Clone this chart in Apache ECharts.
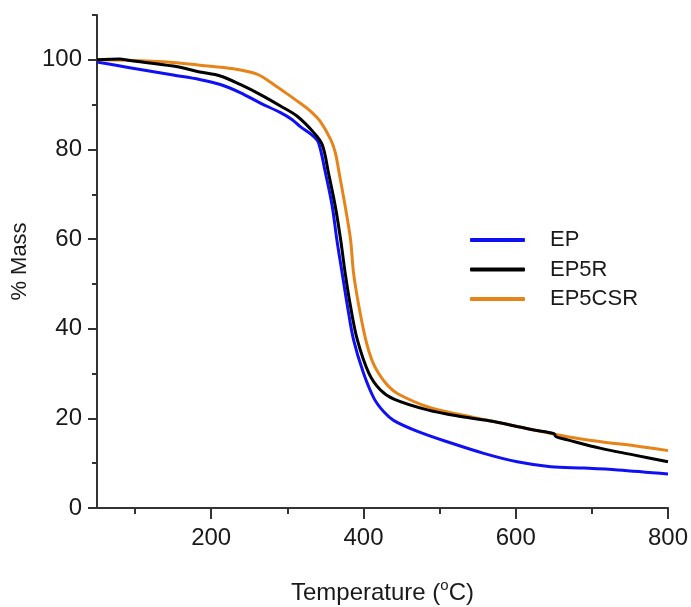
<!DOCTYPE html>
<html>
<head>
<meta charset="utf-8">
<script src="https://cdn.jsdelivr.net/npm/echarts@6/dist/echarts.min.js"></script>
<style>html,body{margin:0;padding:0;background:#fff}#c{width:691px;height:607px}</style>
</head>
<body>
<div id="c"></div>
<script>
const seriesNames = ['EP', 'EP5R', 'EP5CSR'];
const xTickLabels = [200, 400, 600, 800];
const xMinorTicks = [100, 300, 500, 700];
const yTickLabels = [0, 20, 40, 60, 80, 100];
const yMinorTicks = [10, 30, 50, 70, 90, 110];

const epTemp = [50, 91, 150, 185, 212, 238, 264, 291, 306, 317, 334, 341, 350, 359, 365, 372, 379, 387, 400, 414, 427, 440, 471, 515, 558, 602, 646, 690, 734, 800];
const epMass = [99.5, 98.3, 96.6, 95.6, 94.5, 92.7, 90.4, 88.2, 86.7, 85.1, 83.0, 81.5, 74.8, 67.3, 59.9, 52.4, 45.0, 37.5, 30.1, 24.4, 21.4, 19.5, 17.1, 14.5, 12.2, 10.3, 9.2, 8.9, 8.5, 7.6];

const ep5rTemp = [50, 80, 91, 150, 185, 212, 238, 264, 291, 313, 335, 346, 354, 363, 370, 376, 383, 392, 407, 422, 440, 484, 528, 571, 607, 624, 650, 653, 668, 712, 756, 800];
const ep5rMass = [100.0, 100.2, 99.9, 98.6, 97.3, 96.4, 94.5, 92.3, 89.7, 87.4, 83.7, 81.0, 74.8, 67.3, 59.9, 52.4, 45.0, 37.5, 30.1, 26.4, 24.3, 21.9, 20.4, 19.3, 18.0, 17.4, 16.6, 15.9, 15.2, 13.3, 11.8, 10.3];

const ep5csrTemp = [50, 91, 150, 185, 229, 260, 282, 304, 317, 330, 343, 357, 363, 368, 376, 383, 387, 394, 403, 411, 420, 432, 445, 484, 528, 571, 624, 668, 712, 756, 800];
const ep5csrMass = [100.0, 99.9, 99.4, 98.8, 98.0, 96.8, 94.5, 91.9, 90.3, 88.6, 86.3, 82.2, 79.3, 74.8, 67.3, 59.9, 52.4, 45.0, 37.5, 33.0, 30.0, 27.3, 25.5, 22.6, 20.8, 19.3, 17.4, 15.9, 14.8, 13.9, 12.8];

const zip = (a, b) => a.map((v, i) => [v, b[i]]);
const FONT = 'Liberation Sans, Arial, sans-serif';
const AX = '#333';

const chart = echarts.init(document.getElementById('c'), null, {renderer: 'canvas'});
const axisCommon = {
  type: 'value',
  splitLine: {show: false},
  axisLine: {show: true, lineStyle: {color: AX, width: 2}},
  axisLabel: {color: '#1a1a1a', fontFamily: FONT, fontSize: 24}
};
chart.setOption({
  animation: false,
  backgroundColor: '#fff',
  grid: {left: 97, right: 23, top: 15, bottom: 99, containLabel: false, outerBoundsMode: 'none'},
  legend: {
    data: seriesNames,
    orient: 'vertical',
    left: 465,
    top: 224,
    itemWidth: 55,
    itemHeight: 4,
    itemGap: 7.5,
    icon: 'roundRect',
    textStyle: {fontFamily: FONT, fontSize: 22, color: '#1a1a1a', padding: [0, 0, 0, 20]}
  },
  xAxis: [
    Object.assign({}, axisCommon, {
      min: 50, max: 800,
      name: 'Temperature ({sup|o}C)',
      nameLocation: 'middle',
      nameGap: 70,
      nameTextStyle: {fontFamily: FONT, fontSize: 24, color: '#1a1a1a',
        rich: {sup: {fontFamily: FONT, fontSize: 15, color: '#1a1a1a', verticalAlign: 'top', padding: [0, 0, 16, 0]}}},
      axisTick: {show: true, inside: false, length: 11, customValues: xTickLabels, lineStyle: {color: AX, width: 2}},
      axisLabel: Object.assign({}, axisCommon.axisLabel, {margin: 18, customValues: xTickLabels})
    }),
    {
      type: 'value', min: 50, max: 800, position: 'bottom',
      splitLine: {show: false}, axisLine: {show: false}, axisLabel: {show: false},
      axisTick: {show: true, length: 6, customValues: xMinorTicks, lineStyle: {color: AX, width: 2}}
    }
  ],
  yAxis: [
    Object.assign({}, axisCommon, {
      min: 0, max: 110,
      name: '% Mass',
      nameLocation: 'middle',
      nameGap: 63,
      nameTextStyle: {fontFamily: FONT, fontSize: 22, color: '#1a1a1a'},
      axisTick: {show: true, inside: false, length: 9, customValues: yTickLabels, lineStyle: {color: AX, width: 2}},
      axisLabel: Object.assign({}, axisCommon.axisLabel, {margin: 15, customValues: yTickLabels})
    }),
    {
      type: 'value', min: 0, max: 110, position: 'left',
      splitLine: {show: false}, axisLine: {show: false}, axisLabel: {show: false},
      axisTick: {show: true, length: 5, customValues: yMinorTicks, lineStyle: {color: AX, width: 2}}
    }
  ],
  series: [
    {name: 'EP', type: 'line', data: zip(epTemp, epMass), showSymbol: false, smooth: 0.35,
     z: 2, color: '#1010f5', lineStyle: {width: 3, color: '#1010f5'}},
    {name: 'EP5R', type: 'line', data: zip(ep5rTemp, ep5rMass), showSymbol: false, smooth: 0.35,
     z: 4, color: '#000000', lineStyle: {width: 3, color: '#000000'}},
    {name: 'EP5CSR', type: 'line', data: zip(ep5csrTemp, ep5csrMass), showSymbol: false, smooth: 0.35,
     z: 3, color: '#e6841a', lineStyle: {width: 3, color: '#e6841a'}}
  ]
});
</script>
</body>
</html>
